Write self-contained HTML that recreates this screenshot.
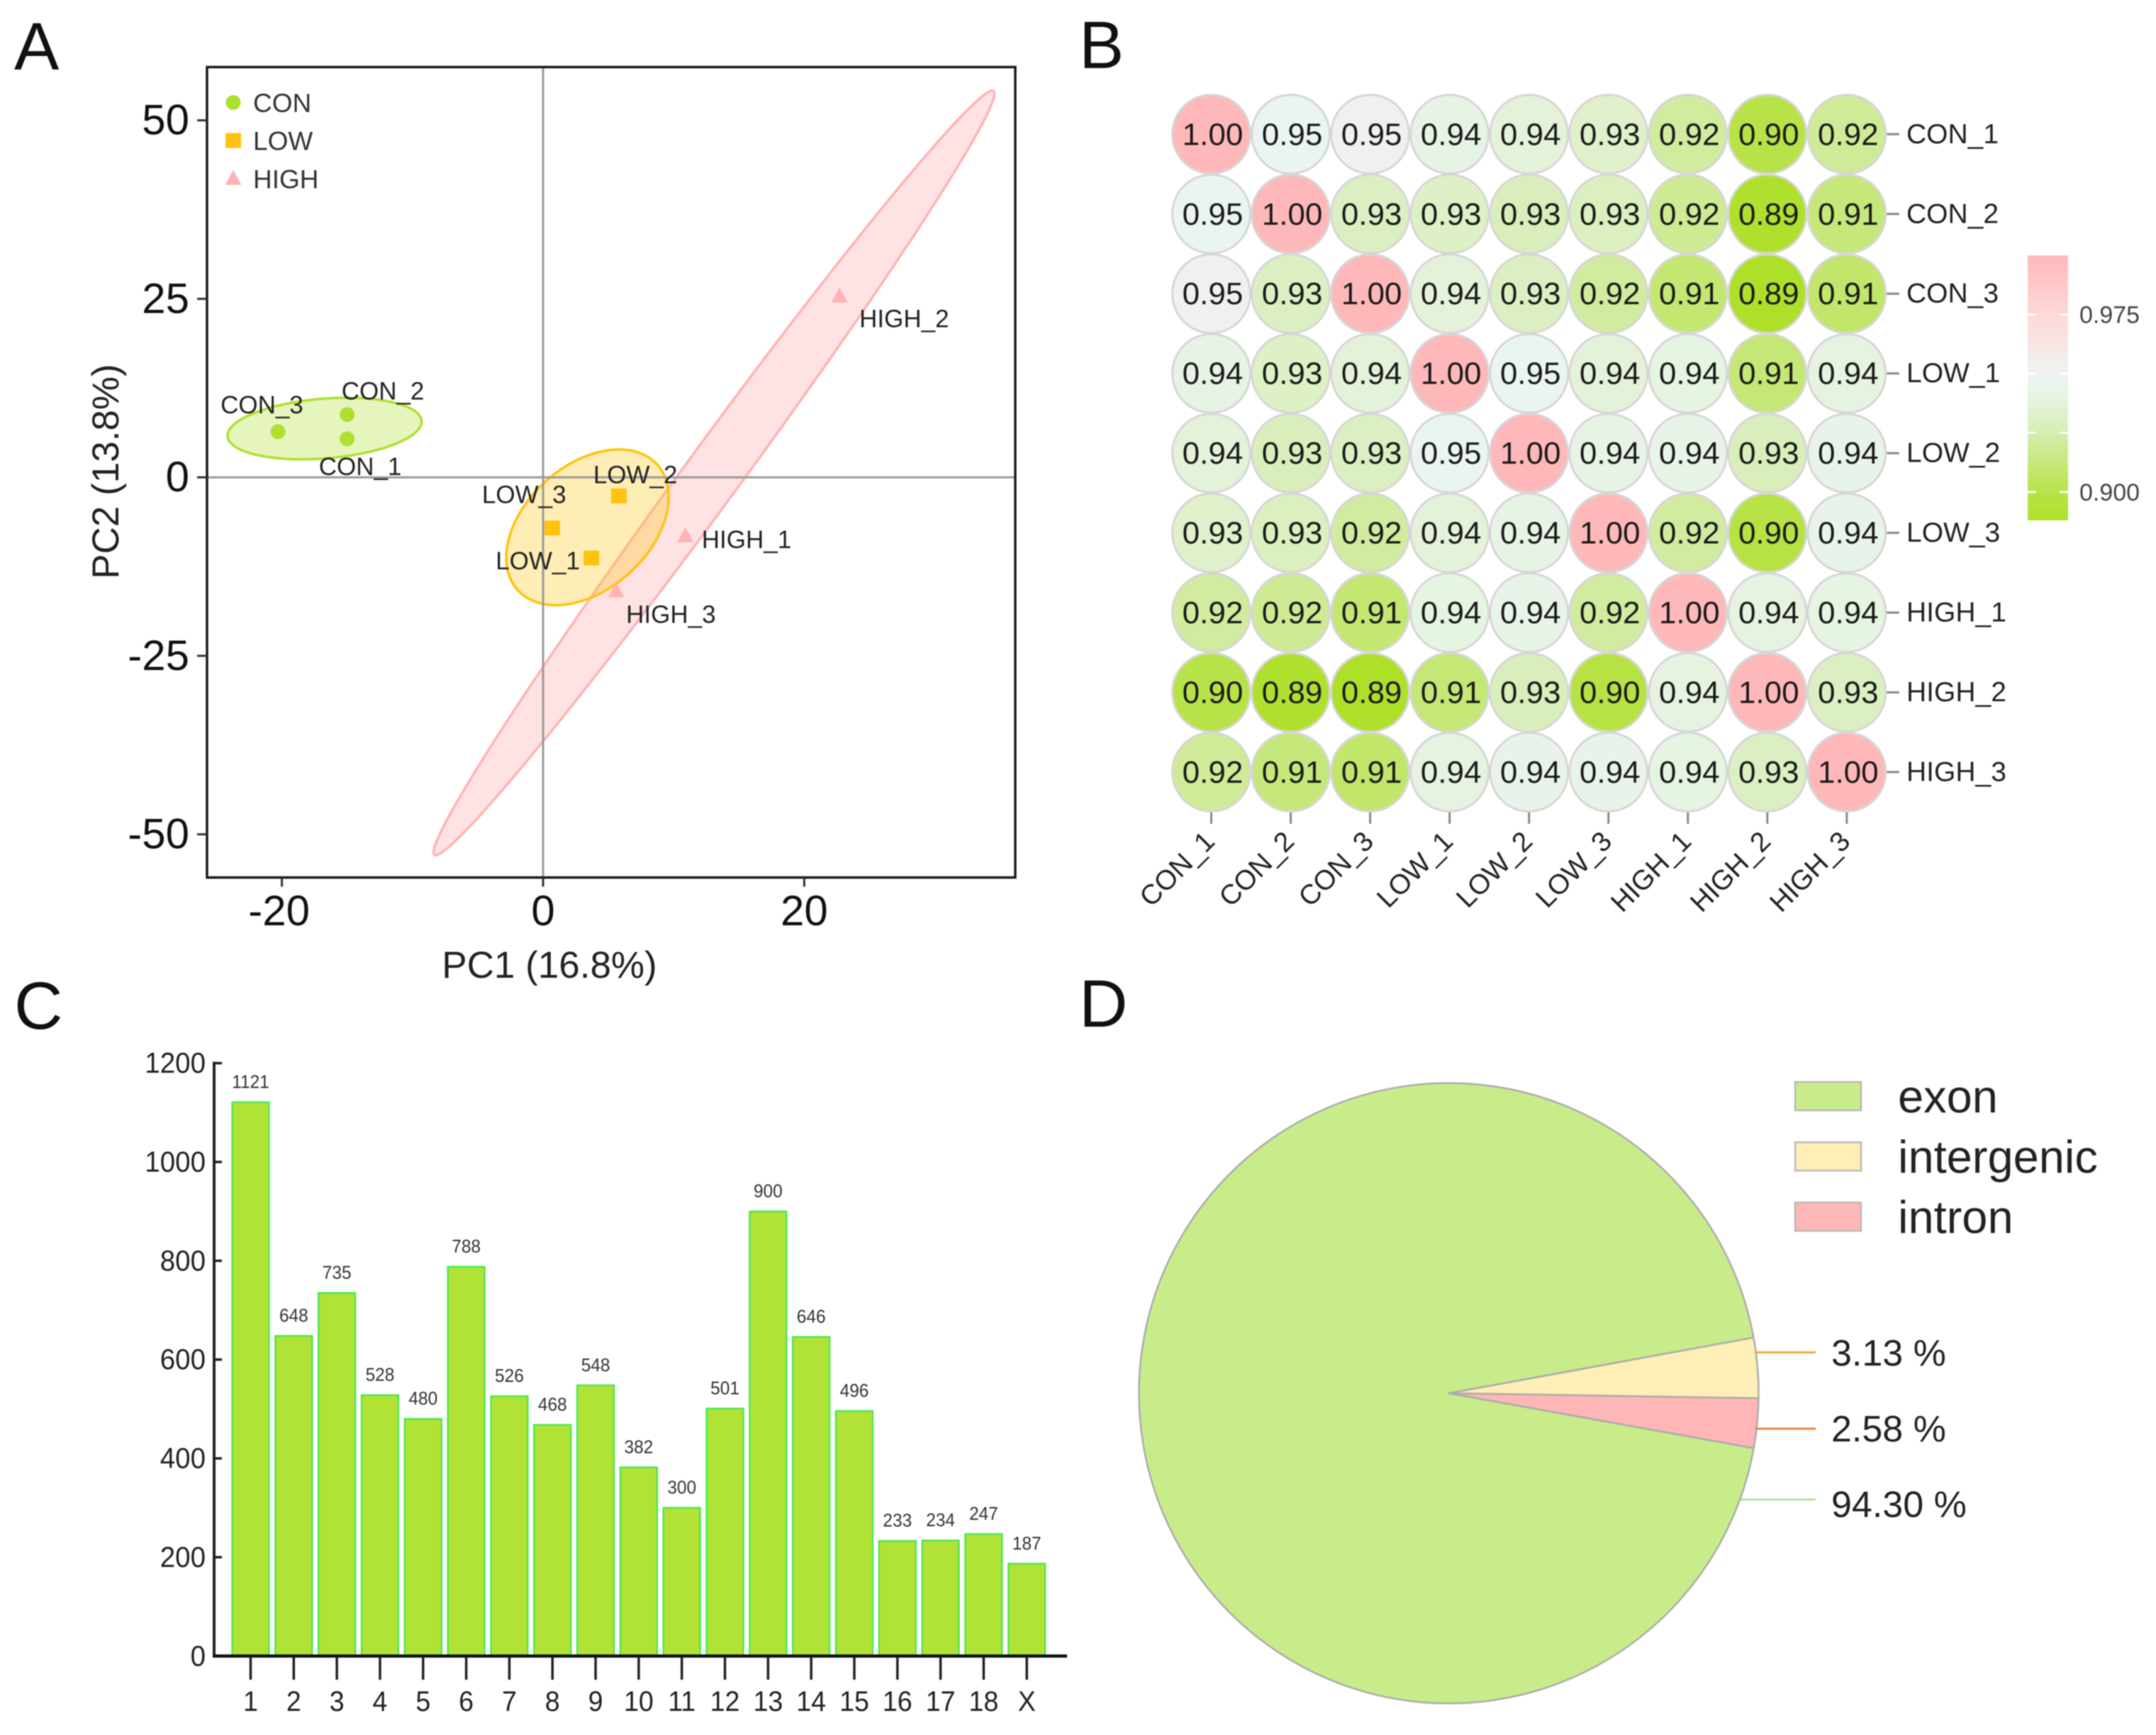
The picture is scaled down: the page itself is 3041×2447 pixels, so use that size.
<!DOCTYPE html>
<html>
<head>
<meta charset="utf-8">
<title>Four panel figure</title>
<style>
html,body{margin:0;padding:0;background:#fff;width:3041px;height:2447px;overflow:hidden}
svg{display:block;filter:blur(0.9px)}
text{font-family:"Liberation Sans",Arial,sans-serif}
</style>
</head>
<body>
<svg id="fig" xmlns="http://www.w3.org/2000/svg" width="3041" height="2447" viewBox="0 0 3041 2447">
  <defs>
    <linearGradient id="cbar-gradient" x1="0" y1="0" x2="0" y2="1"></linearGradient>
  </defs>
  <rect x="0" y="0" width="3041" height="2447" fill="#ffffff"/>
  <text x="20" y="98" font-size="95" fill="#111">A</text>
  <text x="1522" y="96" font-size="95" fill="#111">B</text>
  <text x="20" y="1451" font-size="95" fill="#111">C</text>
  <text x="1522" y="1448" font-size="95" fill="#111">D</text>
  <g id="panel-a"></g>
  <g id="panel-b"></g>
  <g id="panel-c"></g>
  <g id="panel-d"></g>
</svg>
<script>
/* ---------- Panel A data ---------- */
const pcaSamples = ['CON_1','CON_2','CON_3','LOW_1','LOW_2','LOW_3','HIGH_1','HIGH_2','HIGH_3'];
const pcaGroups = ['CON','CON','CON','LOW','LOW','LOW','HIGH','HIGH','HIGH'];
const pcaX = [-15.0,-15.0,-20.3,3.7,5.8,0.7,10.9,22.7,5.6];
const pcaY = [5.4,8.8,6.4,-11.3,-2.6,-7.1,-8.2,25.4,-15.9];
const pcaXTicks = [-20,0,20];
const pcaYTicks = [-50,-25,0,25,50];
const legendGroups = ['CON','LOW','HIGH'];
const ellipseGroups = ['HIGH','LOW','CON'];
const ellipseCx = [13.09,3.4,-16.73];
const ellipseCy = [0.62,-7.0,6.83];
const ellipseMajorX = [21.4,5.07,7.43];
const ellipseMajorY = [53.5,9.27,1.1];
const ellipseMinorX = [1.8,3.6,0.2];
const ellipseMinorY = [-2.1,-5.74,-4.17];

/* ---------- Panel B data ---------- */
const corrLabels = ['CON_1','CON_2','CON_3','LOW_1','LOW_2','LOW_3','HIGH_1','HIGH_2','HIGH_3'];
const corrValues = [
  [1.000,0.948,0.952,0.942,0.938,0.932,0.921,0.900,0.919],
  [0.948,1.000,0.930,0.931,0.928,0.929,0.918,0.889,0.912],
  [0.952,0.930,1.000,0.938,0.930,0.921,0.910,0.888,0.908],
  [0.942,0.931,0.938,1.000,0.947,0.938,0.941,0.911,0.940],
  [0.938,0.928,0.930,0.947,1.000,0.942,0.943,0.928,0.944],
  [0.932,0.929,0.921,0.938,0.942,1.000,0.921,0.898,0.944],
  [0.921,0.918,0.910,0.941,0.943,0.921,1.000,0.940,0.941],
  [0.900,0.889,0.888,0.911,0.928,0.898,0.940,1.000,0.930],
  [0.919,0.912,0.908,0.940,0.944,0.944,0.941,0.930,1.000]
];
const colorbarTicks = [0.9,0.925,0.95,0.975];
const colorbarLabels = ['0.900','','','0.975'];
const colorStopValues = [0.888,0.9,0.925,0.932,0.942,0.948,0.952,0.975,1.0];
const colorStopHexes = ['#aee02a','#b8e348','#d6edb0','#dff0ca','#e7f4e5','#eaf5f2','#f0f1ee','#ffd8d8','#ffb8ba'];

/* ---------- Panel C data ---------- */
const barCategories = ['1','2','3','4','5','6','7','8','9','10','11','12','13','14','15','16','17','18','X'];
const barValues = [1121,648,735,528,480,788,526,468,548,382,300,501,900,646,496,233,234,247,187];
const barYTicks = [0,200,400,600,800,1000,1200];

/* ---------- Panel D data ---------- */
const pieCategories = ['intergenic','intron','exon'];
const pieValues = [3.13,2.58,94.30];
const pieLabels = ['3.13 %','2.58 %','94.30 %'];
const pieColors = ['#ffeeb6','#ffb6b6','#c9ec8a'];
const legendCategories = ['exon','intergenic','intron'];

/* ---------- helpers ---------- */
const NS = 'http://www.w3.org/2000/svg';
function mk(parent, tag, attrs, txt){
  const e = document.createElementNS(NS, tag);
  for (const k in attrs) e.setAttribute(k, attrs[k]);
  if (txt !== undefined) e.textContent = txt;
  parent.appendChild(e);
  return e;
}
function slug(s){ return String(s).toLowerCase().replace(/[^a-z0-9]+/g,'-'); }

/* ---------- Panel A ---------- */
function drawA(){
  const g = document.getElementById('panel-a');
  const L=292,R=1432,T=94.6,B=1237.6;
  const x = v => 766 + v*18.42;
  const y = v => 673.2 - v*10.07;
  const groupFill = {CON:'#aee02f',LOW:'#ffc20e',HIGH:'#ffb3b5'};
  const groupStroke = {CON:'#aee02f',LOW:'#ffc20e',HIGH:'#ffb3b5'};
  const groupArea = {CON:'rgba(174,224,47,0.32)',LOW:'rgba(255,194,14,0.30)',HIGH:'rgba(255,179,181,0.38)'};

  ellipseGroups.forEach((name,i)=>{
    let d='';
    for(let k=0;k<=180;k++){
      const t=k/180*2*Math.PI;
      const dx=ellipseCx[i]+ellipseMajorX[i]*Math.cos(t)+ellipseMinorX[i]*Math.sin(t);
      const dy=ellipseCy[i]+ellipseMajorY[i]*Math.cos(t)+ellipseMinorY[i]*Math.sin(t);
      d+=(k?'L':'M')+x(dx).toFixed(1)+' '+y(dy).toFixed(1);
    }
    const el=mk(g,'path',{d:d+'Z',fill:groupArea[name],stroke:groupStroke[name],'stroke-width':3.5});
    
    
  });

  const h0=mk(g,'line',{x1:L,x2:R,y1:y(0),y2:y(0),stroke:'#9a9a9a','stroke-width':3});
  
  
  const v0=mk(g,'line',{x1:x(0),x2:x(0),y1:T,y2:B,stroke:'#9a9a9a','stroke-width':3});
  
  

  const frame=mk(g,'rect',{x:L,y:T,width:R-L,height:B-T,fill:'none',stroke:'#1a1a1a','stroke-width':3.5});
  
  

  pcaXTicks.forEach(v=>{
    const t=mk(g,'line',{x1:x(v),x2:x(v),y1:B,y2:B+13,stroke:'#333','stroke-width':3});
    
    
    const l=mk(g,'text',{x:x(v)+(v<0?-4:0),y:1305,'font-size':60,'text-anchor':'middle',fill:'#111'},String(v));
    
    
  });
  pcaYTicks.forEach(v=>{
    const t=mk(g,'line',{x1:L-14,x2:L,y1:y(v),y2:y(v),stroke:'#333','stroke-width':3});
    
    
    const l=mk(g,'text',{x:267,y:y(v)+20,'font-size':60,'text-anchor':'end',fill:'#111'},String(v));
    
    
  });
  const xt=mk(g,'text',{x:775,y:1379,'font-size':53,'text-anchor':'middle',fill:'#222'},'PC1 (16.8%)');
  
  
  const yt=mk(g,'text',{x:0,y:0,'font-size':53,'text-anchor':'middle',fill:'#222',transform:'translate(167,665) rotate(-90)'},'PC2 (13.8%)');
  
  

  function marker(parent,group,cx,cy){
    let el;
    if(group==='CON') el=mk(parent,'circle',{cx:cx,cy:cy,r:10.5,fill:groupFill[group]});
    else if(group==='LOW') el=mk(parent,'rect',{x:cx-11,y:cy-10.5,width:22,height:21,fill:groupFill[group]});
    else el=mk(parent,'path',{d:`M${cx} ${cy-12}L${cx+11.5} ${cy+9}L${cx-11.5} ${cy+9}Z`,fill:groupFill[group]});
    return el;
  }
  const nudge={CON_1:[-40,51],CON_2:[-8,-21],CON_3:[-81,-26],LOW_1:[-135,16],LOW_2:[-36,-18],LOW_3:[-99,-35],HIGH_1:[23,17],HIGH_2:[28,44],HIGH_3:[14,45]};
  pcaSamples.forEach((s,i)=>{
    const px=x(pcaX[i]),py=y(pcaY[i]);
    const m=marker(g,pcaGroups[i],px,py);
    
    
    const l=mk(g,'text',{x:px+nudge[s][0],y:py+nudge[s][1],'font-size':35,fill:'#222'},s);
    
    
  });
  legendGroups.forEach((name,i)=>{
    const ly=144.6+53.6*i;
    const m=marker(g,name,329,ly);
    
    
    const l=mk(g,'text',{x:357,y:ly+13.5,'font-size':37,fill:'#333'},name);
    
    
  });
}

/* ---------- Panel B ---------- */
function hexRgb(h){return [1,3,5].map(i=>parseInt(h.substr(i,2),16));}
function corrColor(v){
  const s=colorStopValues;
  if(v<=s[0])return colorStopHexes[0];
  for(let i=1;i<s.length;i++){
    if(v<=s[i]){
      const f=(v-s[i-1])/(s[i]-s[i-1]);
      const a=hexRgb(colorStopHexes[i-1]),b=hexRgb(colorStopHexes[i]);
      return 'rgb('+a.map((c,j)=>Math.round(c+(b[j]-c)*f)).join(',')+')';
    }
  }
  return colorStopHexes[s.length-1];
}
function drawB(){
  const g=document.getElementById('panel-b');
  const col=i=>1708.5+i*112.04;
  const row=i=>189.3+i*112.45;
  const n=corrLabels.length;
  corrLabels.forEach((lab,i)=>{
    const xtick=mk(g,'line',{x1:col(i),x2:col(i),y1:row(n-1)+56,y2:row(n-1)+73,stroke:'#888','stroke-width':3});
    
    
    const xl=mk(g,'text',{x:0,y:0,'font-size':39,'text-anchor':'end',fill:'#222',transform:`translate(${col(i)+7},${row(n-1)+100}) rotate(-45)`},lab);
    
    
    const ytick=mk(g,'line',{x1:col(n-1)+56,x2:col(n-1)+74,y1:row(i),y2:row(i),stroke:'#888','stroke-width':3});
    
    
    const yl=mk(g,'text',{x:2689,y:row(i)+12.5,'font-size':39,fill:'#222'},lab);
    
    
  });
  corrValues.forEach((r,i)=>{
    r.forEach((v,j)=>{
      const c=mk(g,'ellipse',{cx:col(j),cy:row(i),rx:55,ry:55.5,fill:corrColor(v),stroke:'#d6d6d6','stroke-width':3});
      
      
      const t=mk(g,'text',{x:col(j)+2,y:row(i)+15,'font-size':44,'text-anchor':'middle',fill:'#1a1a1a'},v.toFixed(2));
      
      
    });
  });
  /* colour bar */
  const cbY=v=>527-(v-0.95)/0.025*83.4;
  const top=cbY(1.0),bot=cbY(0.888);
  const grad=document.getElementById('cbar-gradient');
  for(let i=colorStopValues.length-1;i>=0;i--){
    mk(grad,'stop',{offset:((cbY(colorStopValues[i])-top)/(bot-top)).toFixed(4),'stop-color':colorStopHexes[i]});
  }
  const bar=mk(g,'rect',{x:2860,y:top,width:57,height:bot-top,fill:'url(#cbar-gradient)'});
  
  
  colorbarTicks.forEach((v,i)=>{
    const a=mk(g,'line',{x1:2860,x2:2872,y1:cbY(v),y2:cbY(v),stroke:'#fff','stroke-width':3});
    
    
    const b=mk(g,'line',{x1:2905,x2:2917,y1:cbY(v),y2:cbY(v),stroke:'#fff','stroke-width':3});
    
    
    if(colorbarLabels[i]){
      const l=mk(g,'text',{x:2933,y:cbY(v)+12,'font-size':34,fill:'#444'},colorbarLabels[i]);
      
      
    }
  });
}

/* ---------- Panel C ---------- */
function drawC(){
  const g=document.getElementById('panel-c');
  const y=v=>2335.6-v*0.6968;
  const x=i=>353.5+i*60.82;
  const bw=52;
  const condensed=(px,py,fs,anchor,txt,fill)=>mk(g,'text',{x:0,y:0,'font-size':fs,'text-anchor':anchor,fill:fill,transform:`translate(${px},${py}) scale(0.94,1)`},txt);
  barValues.forEach((v,i)=>{
    const r=mk(g,'rect',{x:x(i)-bw/2,y:y(v),width:bw,height:y(0)-y(v),fill:'#b1e236',stroke:'#3fe84f','stroke-width':2.2});
    
    
    const l=condensed(x(i),y(v)-20,26,'middle',String(v),'#333');
    
    
    const t=mk(g,'line',{x1:x(i),x2:x(i),y1:2336,y2:2369,stroke:'#222','stroke-width':3.5});
    
    
    const c=condensed(x(i),2413,40,'middle',barCategories[i],'#222');
    
    
  });
  barYTicks.forEach(v=>{
    const t=mk(g,'line',{x1:302,x2:313,y1:y(v),y2:y(v),stroke:'#222','stroke-width':3.5});
    
    
    const l=condensed(290,y(v)+13.7,41,'end',String(v),'#222');
    
    
  });
  const ya=mk(g,'line',{x1:302,x2:302,y1:y(1200)-2,y2:y(0)+2,stroke:'#222','stroke-width':4});
  
  
  const xa=mk(g,'line',{x1:300,x2:1505,y1:y(0),y2:y(0),stroke:'#111','stroke-width':4.5});
  
  
}

/* ---------- Panel D ---------- */
function drawD(){
  const g=document.getElementById('panel-d');
  const cx=2043.5,cy=1965,rx=437,ry=437.5;
  const startDeg=10.35;
  const total=pieValues.reduce((a,b)=>a+b,0);
  const pt=a=>[cx+rx*Math.cos(a),cy-ry*Math.sin(a)];
  let ang=startDeg*Math.PI/180;
  pieValues.forEach((v,i)=>{
    const sweep=v/total*2*Math.PI;
    const a=pt(ang),b=pt(ang-sweep);
    const large=sweep>Math.PI?1:0;
    const d=`M${cx} ${cy}L${a[0].toFixed(2)} ${a[1].toFixed(2)}A${rx} ${ry} 0 ${large} 1 ${b[0].toFixed(2)} ${b[1].toFixed(2)}Z`;
    const s=mk(g,'path',{d:d,fill:pieColors[i],stroke:'#ababab','stroke-width':2.5,'stroke-linejoin':'round'});
    
    
    ang-=sweep;
  });
  const leaderY=[1907.4,2015,2115];
  const leaderX=[2476,2476,2455];
  const leaderColor=['#e8ab3c','#f0843f','#b4e0a4'];
  const textY=[1926,2033,2139.4];
  pieLabels.forEach((t,i)=>{
    const l=mk(g,'line',{x1:leaderX[i],x2:2561,y1:leaderY[i],y2:leaderY[i],stroke:leaderColor[i],'stroke-width':3});
    
    
    const x=mk(g,'text',{x:2583,y:textY[i],'font-size':52,fill:'#222'},t);
    
    
  });
  const swatchColors={exon:'#c9ec8a',intergenic:'#ffeeb6',intron:'#ffb6b6'};
  legendCategories.forEach((name,i)=>{
    const top=1526+85*i;
    const r=mk(g,'rect',{x:2532,y:top,width:93,height:40,fill:swatchColors[name],stroke:'#b9b9b9','stroke-width':2.5});
    
    
    const t=mk(g,'text',{x:2677,y:top+43,'font-size':65,fill:'#222'},name);
    
    
  });
}

drawA();
drawB();
drawC();
drawD();
</script>
</body>
</html>
